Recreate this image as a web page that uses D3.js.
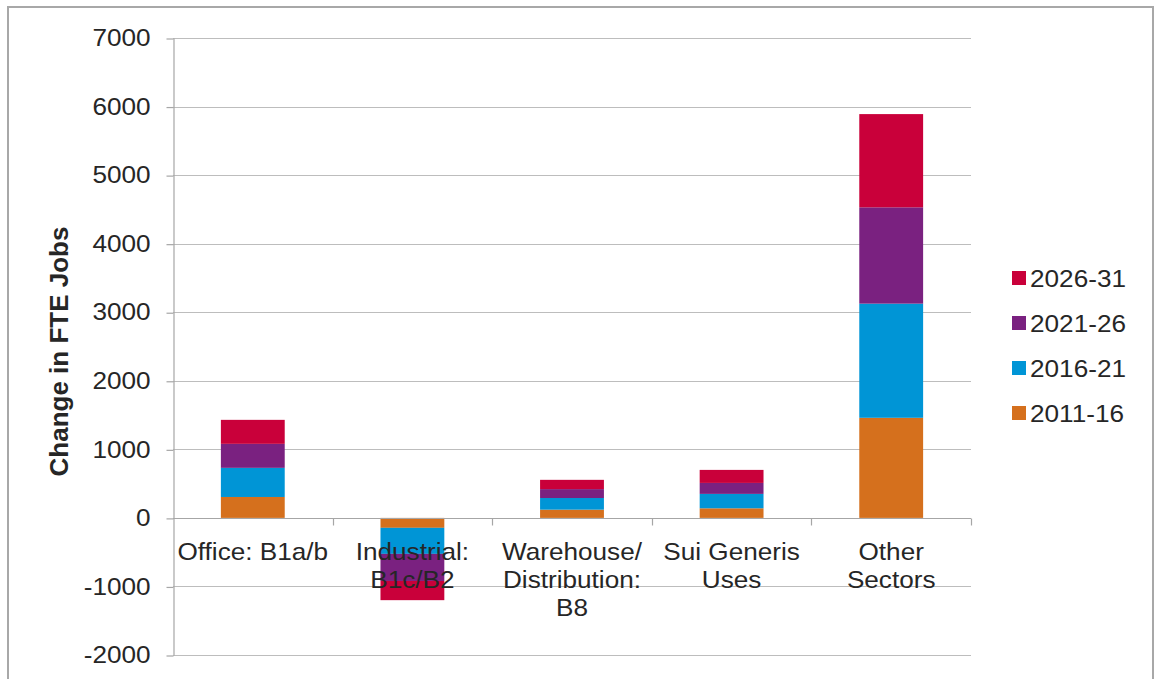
<!DOCTYPE html>
<html>
<head>
<meta charset="utf-8">
<script src="https://cdn.jsdelivr.net/npm/d3@7"></script>
<style>
  html, body { margin: 0; padding: 0; background: #fff; }
  svg { display: block; font-family: "Liberation Sans", Arial, sans-serif; }
</style>
</head>
<body>
<svg id="chart" width="1156" height="679"></svg>
<script>
// Sectors shown along the x axis (label lines)
const categories = ["Office: B1a/b", "Industrial: B1c/B2", "Warehouse/ Distribution: B8", "Sui Generis Uses", "Other Sectors"];
const categoryLines = [["Office: B1a/b"], ["Industrial:", "B1c/B2"], ["Warehouse/", "Distribution:", "B8"], ["Sui Generis", "Uses"], ["Other", "Sectors"]];

// Periods, stacked bottom to top
const periods = ["2011-16", "2016-21", "2021-26", "2026-31"];

// Change in FTE jobs per period, one array per sector order above
const jobs2011_16 = [305, -145, 120, 140, 1460];
const jobs2016_21 = [425, -380, 170, 210, 1665];
const jobs2021_26 = [350, -395, 130, 160, 1405];
const jobs2026_31 = [350, -280, 135, 190, 1360];

const yTicks = [-2000, -1000, 0, 1000, 2000, 3000, 4000, 5000, 6000, 7000];

const colors = {
  "2011-16": "#d5701d",
  "2016-21": "#0095d6",
  "2021-26": "#7a2180",
  "2026-31": "#c9003a"
};

const series = { "2011-16": jobs2011_16, "2016-21": jobs2016_21, "2021-26": jobs2021_26, "2026-31": jobs2026_31 };
const rows = categories.map((c, i) => {
  const r = { category: c };
  periods.forEach(p => { r[p] = series[p][i]; });
  return r;
});

const svg = d3.select("#chart");
const textScale = "scale(1.09,1)";

// frame around the chart
svg.append("rect")
  .attr("x", 8).attr("y", 7).attr("width", 1145).attr("height", 690)
  .attr("fill", "none").attr("stroke", "#a8a8a8").attr("stroke-width", 2);

const plot = { left: 173, right: 971, top: 38, bottom: 655 };

const y = d3.scaleLinear().domain([-2000, 7000]).range([plot.bottom, plot.top]);
const x = d3.scaleBand().domain(categories).range([plot.left, plot.right]).padding(0);
const barWidth = x.bandwidth() * 0.4;

// horizontal gridlines
svg.append("g").selectAll("line").data(yTicks).join("line")
  .attr("x1", plot.left).attr("x2", plot.right)
  .attr("y1", d => Math.round(y(d)) + 0.5).attr("y2", d => Math.round(y(d)) + 0.5)
  .attr("stroke", "#bdbdbd").attr("stroke-width", 1.2);

// y axis (plain hyphen for negative labels)
const yAxis = svg.append("g")
  .attr("transform", `translate(${plot.left + 0.5},0)`)
  .call(d3.axisLeft(y).tickValues(yTicks).tickSize(7).tickPadding(14).tickSizeOuter(0).tickFormat(d => String(d)));
yAxis.select(".domain").attr("stroke", "#a6a6a6").attr("stroke-width", 1.2);
yAxis.selectAll(".tick line").attr("stroke", "#a6a6a6").attr("stroke-width", 1.2);
yAxis.selectAll(".tick line").attr("transform", "translate(0,0.5)");
yAxis.selectAll("text")
  .attr("font-size", 24).attr("fill", "#262626")
  .attr("font-family", "'Liberation Sans', Arial, sans-serif")
  .attr("transform", textScale);

// stacked bars
const stack = d3.stack().keys(periods).offset(d3.stackOffsetDiverging);
const layers = stack(rows);
svg.append("g").selectAll("g").data(layers).join("g")
  .attr("fill", d => colors[d.key])
  .selectAll("rect").data(d => d).join("rect")
  .attr("x", d => x(d.data.category) + (x.bandwidth() - barWidth) / 2)
  .attr("width", barWidth)
  .attr("y", d => y(Math.max(d[0], d[1])))
  .attr("height", d => Math.abs(y(d[0]) - y(d[1])));

// x axis along zero, with ticks at category boundaries
const y0 = Math.round(y(0)) + 0.5;
svg.append("line")
  .attr("x1", plot.left).attr("x2", plot.right)
  .attr("y1", y0).attr("y2", y0)
  .attr("stroke", "#a6a6a6").attr("stroke-width", 1.2);
const bounds = categories.map(c => x(c) + x.bandwidth());
svg.append("g").selectAll("line").data(bounds).join("line")
  .attr("x1", d => Math.round(d) + 0.5).attr("x2", d => Math.round(d) + 0.5)
  .attr("y1", y0).attr("y2", y0 + 7)
  .attr("stroke", "#a6a6a6").attr("stroke-width", 1.2);

// category labels
const labels = svg.append("g");
categories.forEach((c, i) => {
  const cx = x(c) + x.bandwidth() / 2;
  const t = labels.append("text")
    .attr("transform", `translate(${cx},560) ${textScale}`)
    .attr("text-anchor", "middle")
    .attr("font-size", 24).attr("fill", "#262626");
  categoryLines[i].forEach((line, j) => {
    t.append("tspan").attr("x", 0).attr("y", j * 28).text(line);
  });
});

// y axis title
svg.append("text")
  .attr("transform", `translate(68,${(225 + 478) / 2}) rotate(-90)`)
  .attr("text-anchor", "middle")
  .attr("font-size", 26).attr("font-weight", "bold").attr("fill", "#262626")
  .text("Change in FTE Jobs");

// legend, latest period on top
const legendOrder = periods.slice().reverse();
const legend = svg.append("g").selectAll("g").data(legendOrder).join("g")
  .attr("transform", (d, i) => `translate(1012,${278 + i * 45})`);
legend.append("rect")
  .attr("x", 0).attr("y", -7).attr("width", 14).attr("height", 14)
  .attr("fill", d => colors[d]);
legend.append("text")
  .attr("transform", `translate(18,8.5) ${textScale}`)
  .attr("font-size", 24).attr("fill", "#262626")
  .text(d => d);
</script>
</body>
</html>
